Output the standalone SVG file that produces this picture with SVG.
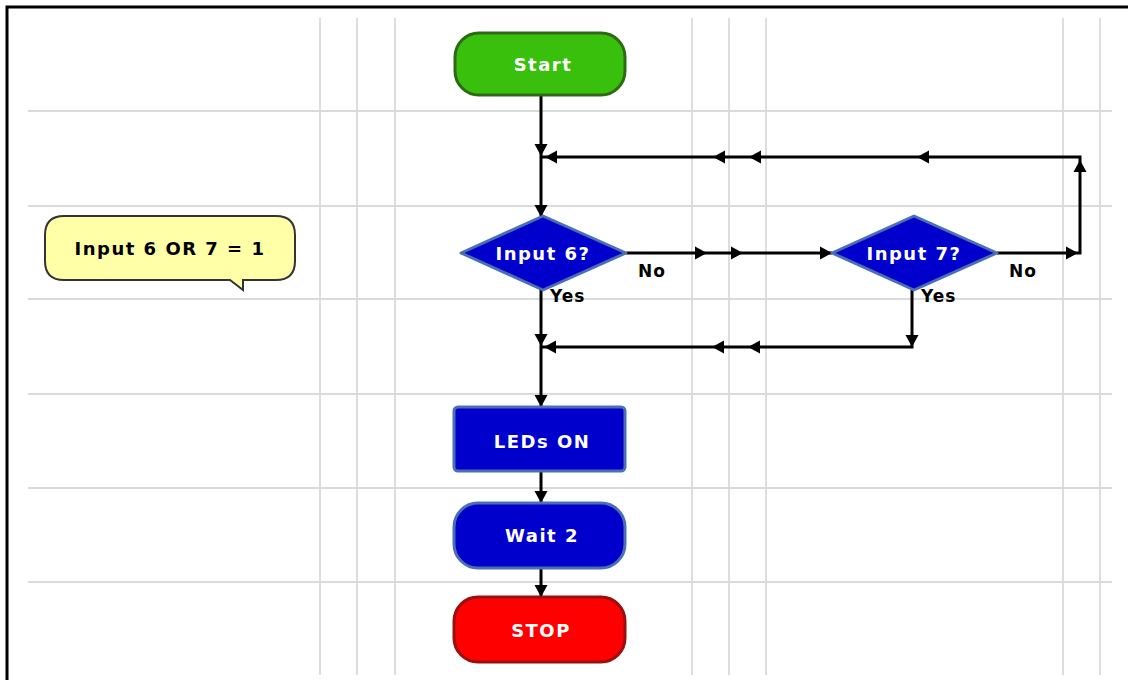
<svg xmlns="http://www.w3.org/2000/svg" width="1128" height="680" viewBox="0 0 1128 680">
<style>
.grid{stroke:#dadada;stroke-width:1.8;fill:none}
.wire{stroke:#000;stroke-width:3;fill:none;stroke-linejoin:miter}
.lbl{font-family:"DejaVu Sans",Verdana,sans-serif;font-weight:bold;font-size:18px;letter-spacing:1.5px;text-anchor:middle;dominant-baseline:central}
.wt{fill:#fff}
.bk{fill:#000}
.yn{font-family:"DejaVu Sans",Verdana,sans-serif;font-weight:bold;font-size:17px;letter-spacing:1px;fill:#000}
.blue{fill:#0000cc;stroke:#4a6fb5;stroke-width:3;stroke-linejoin:round}
</style>
<defs>
<path id="ah" d="M0,0 L-12,-6.5 L-12,6.5 Z" fill="#000"/>
</defs>
<rect x="0" y="0" width="1128" height="680" fill="#fff"/>
<g id="grid">
<path class="grid" d="M320,18V675 M357,18V675 M395,18V675 M692,18V675 M729,18V675 M766,18V675 M1063,18V675 M1100,18V675"/>
<path class="grid" d="M28,111H1112 M28,206H1112 M28,299H1112 M28,394H1112 M28,488H1112 M28,582H1112"/>
</g>
<path d="M7,680V7H1128" fill="none" stroke="#000" stroke-width="3"/>
<g id="connectors">
<path class="wire" d="M541,96V217"/>
<path class="wire" d="M626,253H832"/>
<path class="wire" d="M997,253H1080V157H541"/>
<path class="wire" d="M541,288V407"/>
<path class="wire" d="M912,290V347H541"/>
<path class="wire" d="M541,471V503"/>
<path class="wire" d="M541,568V597"/>
<use href="#ah" transform="translate(541,156) rotate(90)"/>
<use href="#ah" transform="translate(541,217) rotate(90)"/>
<use href="#ah" transform="translate(707,253)"/>
<use href="#ah" transform="translate(743,253)"/>
<use href="#ah" transform="translate(832,253)"/>
<use href="#ah" transform="translate(1078,253)"/>
<use href="#ah" transform="translate(1080,160) rotate(-90)"/>
<use href="#ah" transform="translate(917,157) rotate(180)"/>
<use href="#ah" transform="translate(749,157) rotate(180)"/>
<use href="#ah" transform="translate(713,157) rotate(180)"/>
<use href="#ah" transform="translate(545,157) rotate(180)"/>
<use href="#ah" transform="translate(541,346) rotate(90)"/>
<use href="#ah" transform="translate(912,347) rotate(90)"/>
<use href="#ah" transform="translate(748,347) rotate(180)"/>
<use href="#ah" transform="translate(712,347) rotate(180)"/>
<use href="#ah" transform="translate(544,347) rotate(180)"/>
<use href="#ah" transform="translate(541,407) rotate(90)"/>
<use href="#ah" transform="translate(541,503) rotate(90)"/>
<use href="#ah" transform="translate(541,597) rotate(90)"/>
<text class="yn" x="638" y="277">No</text>
<text class="yn" x="550" y="302">Yes</text>
<text class="yn" x="1009" y="277">No</text>
<text class="yn" x="921" y="302">Yes</text>
</g>
<g id="start">
<rect x="455" y="33" width="170" height="62" rx="24" fill="#38c00c" stroke="#2d6a12" stroke-width="3"/>
<text class="lbl wt" x="543" y="64">Start</text>
</g>
<g id="input6">
<polygon points="461,253 543,216 626,253 543,290" class="blue"/>
<text class="lbl wt" x="543" y="253">Input 6?</text>
</g>
<g id="input7">
<polygon points="832,253 914,216 997,253 914,290" class="blue"/>
<text class="lbl wt" x="914" y="253">Input 7?</text>
</g>
<g id="leds">
<rect x="454" y="407" width="171" height="64" rx="4" class="blue"/>
<text class="lbl wt" x="542" y="441">LEDs ON</text>
</g>
<g id="wait">
<rect x="454" y="503" width="171" height="65" rx="24" class="blue"/>
<text class="lbl wt" x="542" y="535">Wait 2</text>
</g>
<g id="stop">
<rect x="454" y="597" width="171" height="65" rx="24" fill="#ff0000" stroke="#9a1010" stroke-width="3"/>
<text class="lbl wt" x="541" y="630">STOP</text>
</g>
<g id="comment">
<path d="M64,216H276Q295,216 295,235V261Q295,280 276,280H243V290L230,280H64Q45,280 45,261V235Q45,216 64,216Z" fill="#ffffa8" stroke="#333" stroke-width="2"/>
<text class="lbl bk" x="170" y="248">Input 6 OR 7 = 1</text>
</g>
</svg>
